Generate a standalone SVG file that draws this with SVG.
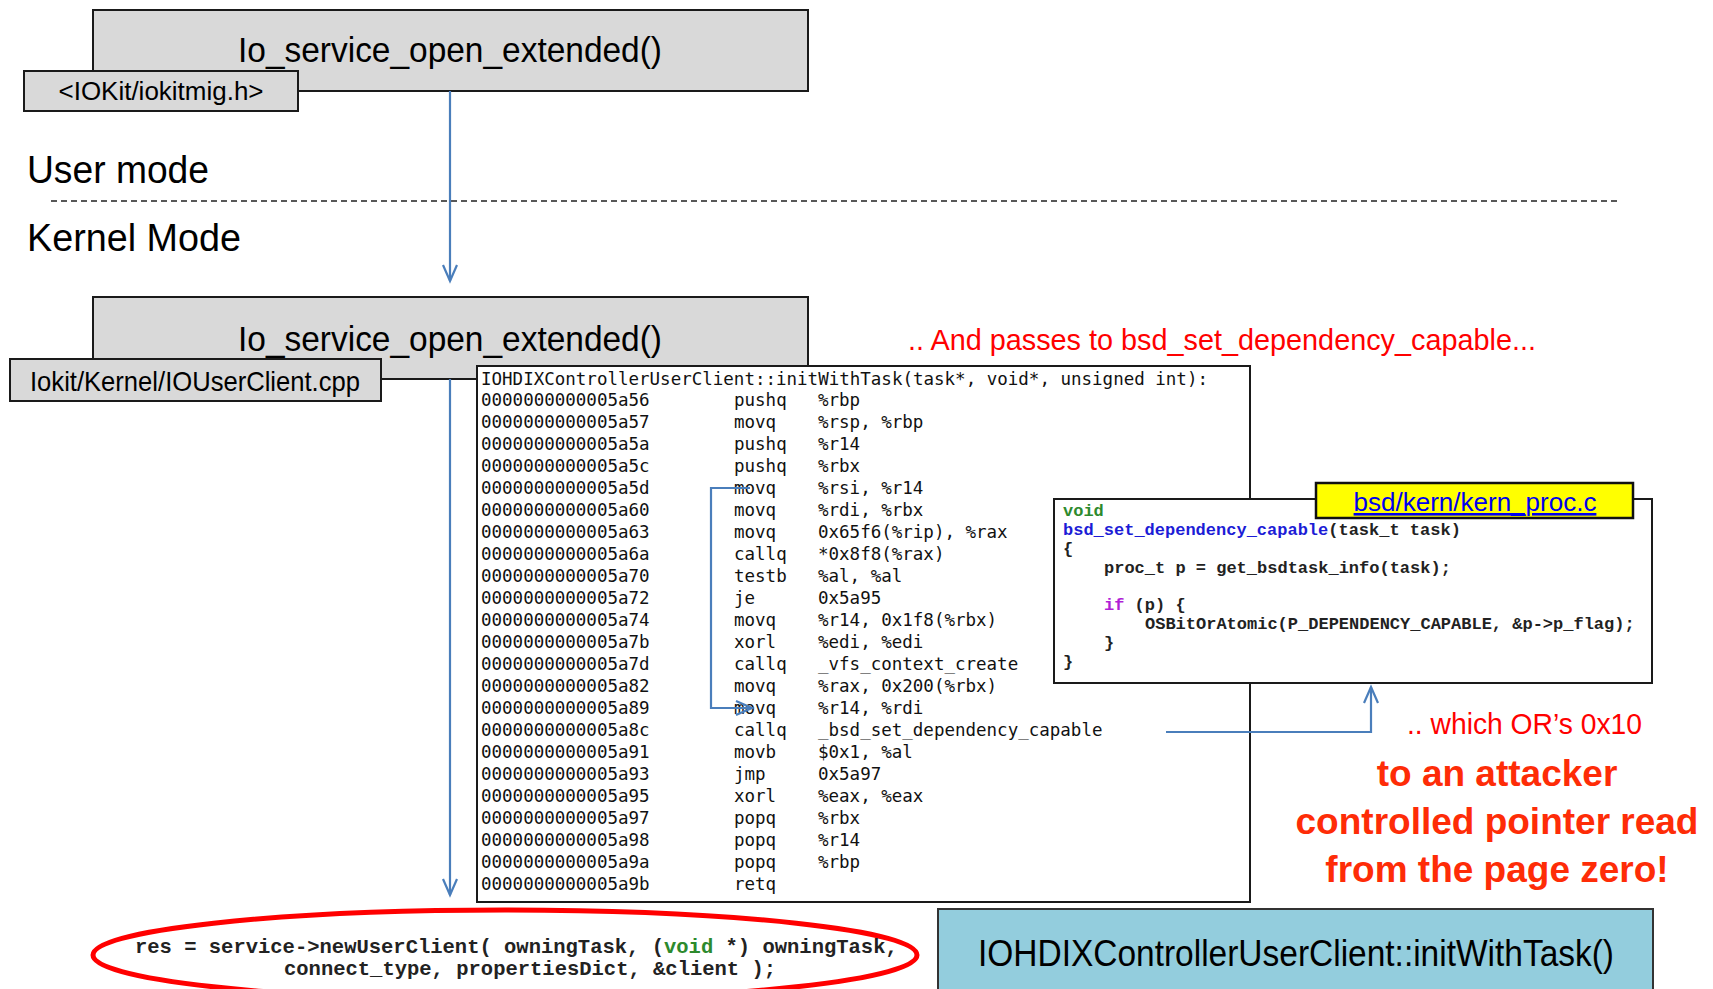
<svg xmlns="http://www.w3.org/2000/svg" width="1713" height="989" viewBox="0 0 1713 989">
<defs>
<style>
.box{fill:#d9d9d9;stroke:#1a1a1a;stroke-width:2}
.sans{font-family:"Liberation Sans",Arial,sans-serif;fill:#000}
.mono{font-family:"DejaVu Sans Mono","Liberation Mono",monospace;font-size:17.5px;fill:#111}
.cmono{font-family:"Liberation Mono","Courier New",monospace;font-weight:bold;fill:#222}
.conn{fill:none;stroke:#4a7ebb;stroke-width:2.2}
.red{font-family:"Liberation Sans",Arial,sans-serif;fill:#ff0000}
.bred{font-family:"Liberation Sans",Arial,sans-serif;font-weight:bold;fill:#fe2c07;font-size:37px}
</style>
<marker id="arr" markerUnits="userSpaceOnUse" markerWidth="20" markerHeight="18" refX="17" refY="8" orient="auto">
<path d="M1,1 L17,8 L1,15" fill="none" stroke="#4a7ebb" stroke-width="2.2"/>
</marker>
</defs>
<rect width="1713" height="989" fill="#fff"/>

<g id="user-top">
<rect class="box" x="93" y="10" width="715" height="81"/>
<text class="sans" x="450" y="62" font-size="35" text-anchor="middle" textLength="424" lengthAdjust="spacingAndGlyphs">Io_service_open_extended()</text>
</g>
<g id="label-iokitmig">
<rect class="box" x="24" y="71" width="274" height="40"/>
<text class="sans" x="161" y="100" font-size="26" text-anchor="middle" textLength="205" lengthAdjust="spacingAndGlyphs">&lt;IOKit/iokitmig.h&gt;</text>
</g>

<g id="mode-labels">
<text class="sans" x="27" y="183" font-size="39" textLength="182" lengthAdjust="spacingAndGlyphs">User mode</text>
<line x1="51" y1="201" x2="1620" y2="201" stroke="#222" stroke-width="1.5" stroke-dasharray="6,4"/>
<text class="sans" x="27" y="251" font-size="39" textLength="214" lengthAdjust="spacingAndGlyphs">Kernel Mode</text>
</g>

<g id="kernel-top">
<rect class="box" x="93" y="297" width="715" height="82"/>
<text class="sans" x="450" y="351" font-size="35" text-anchor="middle" textLength="424" lengthAdjust="spacingAndGlyphs">Io_service_open_extended()</text>
</g>
<g id="label-iouserclient">
<rect class="box" x="10" y="359" width="371" height="42"/>
<text class="sans" x="195" y="391" font-size="28" text-anchor="middle" textLength="330" lengthAdjust="spacingAndGlyphs">Iokit/Kernel/IOUserClient.cpp</text>
</g>

<g id="note-passes">
<text class="red" x="908" y="350" font-size="29" textLength="628" lengthAdjust="spacingAndGlyphs">.. And passes to bsd_set_dependency_capable...</text>
</g>

<g id="disasm">
<rect x="477" y="366" width="773" height="536" fill="#fff" stroke="#1a1a1a" stroke-width="2"/>
<text class="mono" x="481" y="385">IOHDIXControllerUserClient::initWithTask(task*, void*, unsigned int):</text>
<g class="mono">
<text x="481" y="406">0000000000005a56</text><text x="734" y="406">pushq</text><text x="818" y="406">%rbp</text>
<text x="481" y="428">0000000000005a57</text><text x="734" y="428">movq</text><text x="818" y="428">%rsp, %rbp</text>
<text x="481" y="450">0000000000005a5a</text><text x="734" y="450">pushq</text><text x="818" y="450">%r14</text>
<text x="481" y="472">0000000000005a5c</text><text x="734" y="472">pushq</text><text x="818" y="472">%rbx</text>
<text x="481" y="494">0000000000005a5d</text><text x="734" y="494">movq</text><text x="818" y="494">%rsi, %r14</text>
<text x="481" y="516">0000000000005a60</text><text x="734" y="516">movq</text><text x="818" y="516">%rdi, %rbx</text>
<text x="481" y="538">0000000000005a63</text><text x="734" y="538">movq</text><text x="818" y="538">0x65f6(%rip), %rax</text>
<text x="481" y="560">0000000000005a6a</text><text x="734" y="560">callq</text><text x="818" y="560">*0x8f8(%rax)</text>
<text x="481" y="582">0000000000005a70</text><text x="734" y="582">testb</text><text x="818" y="582">%al, %al</text>
<text x="481" y="604">0000000000005a72</text><text x="734" y="604">je</text><text x="818" y="604">0x5a95</text>
<text x="481" y="626">0000000000005a74</text><text x="734" y="626">movq</text><text x="818" y="626">%r14, 0x1f8(%rbx)</text>
<text x="481" y="648">0000000000005a7b</text><text x="734" y="648">xorl</text><text x="818" y="648">%edi, %edi</text>
<text x="481" y="670">0000000000005a7d</text><text x="734" y="670">callq</text><text x="818" y="670">_vfs_context_create</text>
<text x="481" y="692">0000000000005a82</text><text x="734" y="692">movq</text><text x="818" y="692">%rax, 0x200(%rbx)</text>
<text x="481" y="714">0000000000005a89</text><text x="734" y="714">movq</text><text x="818" y="714">%r14, %rdi</text>
<text x="481" y="736">0000000000005a8c</text><text x="734" y="736">callq</text><text x="818" y="736">_bsd_set_dependency_capable</text>
<text x="481" y="758">0000000000005a91</text><text x="734" y="758">movb</text><text x="818" y="758">$0x1, %al</text>
<text x="481" y="780">0000000000005a93</text><text x="734" y="780">jmp</text><text x="818" y="780">0x5a97</text>
<text x="481" y="802">0000000000005a95</text><text x="734" y="802">xorl</text><text x="818" y="802">%eax, %eax</text>
<text x="481" y="824">0000000000005a97</text><text x="734" y="824">popq</text><text x="818" y="824">%rbx</text>
<text x="481" y="846">0000000000005a98</text><text x="734" y="846">popq</text><text x="818" y="846">%r14</text>
<text x="481" y="868">0000000000005a9a</text><text x="734" y="868">popq</text><text x="818" y="868">%rbp</text>
<text x="481" y="890">0000000000005a9b</text><text x="734" y="890">retq</text>
</g>
</g>

<g id="connectors">
<line class="conn" x1="450" y1="91" x2="450" y2="281" marker-end="url(#arr)"/>
<line class="conn" x1="450" y1="379" x2="450" y2="895" marker-end="url(#arr)"/>
<polyline class="conn" points="750,488 711,488 711,708 752,708" marker-end="url(#arr)"/>
<polyline class="conn" points="1166,732 1371,732 1371,687" marker-end="url(#arr)"/>
</g>

<g id="bsd-snippet">
<rect x="1054" y="499" width="598" height="184" fill="#fff" stroke="#1a1a1a" stroke-width="2"/>
<g class="cmono" font-size="17">
<text x="1063" y="516" fill="#2d8a2d">void</text>
<text x="1063" y="535"><tspan fill="#1c1cd6">bsd_set_dependency_capable</tspan>(task_t task)</text>
<text x="1063" y="554">{</text>
<text x="1104" y="573">proc_t p = get_bsdtask_info(task);</text>
<text x="1104" y="610"><tspan fill="#b01fd6">if</tspan> (p) {</text>
<text x="1145" y="629">OSBitOrAtomic(P_DEPENDENCY_CAPABLE, &amp;p-&gt;p_flag);</text>
<text x="1104" y="648">}</text>
<text x="1063" y="667">}</text>
</g>
</g>
<g id="label-kern-proc">
<rect x="1316" y="483" width="317" height="35" fill="#ffff00" stroke="#111" stroke-width="2.5"/>
<text class="sans" x="1475" y="511" font-size="26" text-anchor="middle" text-decoration="underline" style="fill:#0000ee">bsd/kern/kern_proc.c</text>
</g>

<g id="note-or">
<text class="red" x="1407" y="734" font-size="29" textLength="235" lengthAdjust="spacingAndGlyphs">.. which OR’s 0x10</text>
<text class="bred" x="1497" y="786" text-anchor="middle">to an attacker</text>
<text class="bred" x="1497" y="834" text-anchor="middle">controlled pointer read</text>
<text class="bred" x="1497" y="882" text-anchor="middle">from the page zero!</text>
</g>

<g id="init-with-task">
<rect x="938" y="909" width="715" height="90" fill="#93cddd" stroke="#333" stroke-width="2"/>
<text class="sans" x="1296" y="966" font-size="36" text-anchor="middle" textLength="636" lengthAdjust="spacingAndGlyphs">IOHDIXControllerUserClient::initWithTask()</text>
</g>

<g id="new-user-client">
<ellipse cx="505" cy="955" rx="412" ry="45" fill="none" stroke="#ff0000" stroke-width="5"/>
<g class="cmono" font-size="20.5">
<text x="135" y="953">res = service-&gt;newUserClient( owningTask, (<tspan fill="#2d8a2d">void</tspan> *) owningTask,</text>
<text x="284" y="975">connect_type, propertiesDict, &amp;client );</text>
</g>
</g>
</svg>
